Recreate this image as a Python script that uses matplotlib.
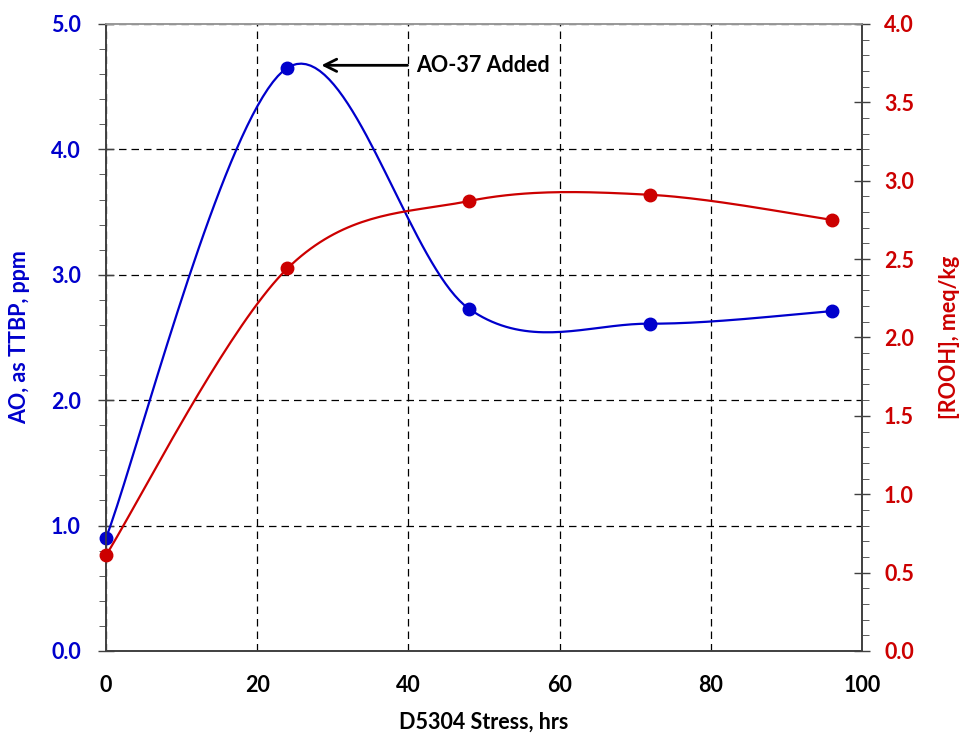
import numpy as np
import matplotlib.pyplot as plt
from matplotlib.ticker import MultipleLocator, FormatStrFormatter

# data
hours = [0, 24, 48, 72, 96]
ao_ppm = [0.90, 4.65, 2.73, 2.61, 2.71]
rooh = [0.61, 2.44, 2.87, 2.91, 2.75]

blue = "#0000CC"
red = "#CC0000"
plt.rcParams["font.family"] = ["Lato", "DejaVu Sans"]
plt.rcParams["font.weight"] = "bold"


def smooth(x, y, sx, sy, n=40):
    # Excel-like smoothed line: cubic Bezier with Catmull-Rom control points,
    # computed in screen-proportional units
    px = np.asarray(x, float) * sx
    py = np.asarray(y, float) * sy
    P = np.column_stack([px, py])
    P = np.vstack([P[0], P, P[-1]])
    out = []
    for i in range(1, len(P) - 2):
        p0, p1, p2, p3 = P[i - 1], P[i], P[i + 1], P[i + 2]
        c1 = p1 + (p2 - p0) / 6
        c2 = p2 - (p3 - p1) / 6
        t = np.linspace(0, 1, n)[:, None]
        seg = (1 - t) ** 3 * p1 + 3 * (1 - t) ** 2 * t * c1 + 3 * (1 - t) * t ** 2 * c2 + t ** 3 * p2
        out.append(seg if i == 1 else seg[1:])
    out = np.vstack(out)
    return out[:, 0] / sx, out[:, 1] / sy


fig = plt.figure(figsize=(9.63, 7.36), dpi=100)
ax = fig.add_axes([0.110, 0.1155, 0.785, 0.852])
ax2 = ax.twinx()

# axes size in pixels -> units for the smoothing
w_px, h_px = 756, 627
bx, by = smooth(hours, ao_ppm, w_px / 100, h_px / 5)
rx, ry = smooth(hours, rooh, w_px / 100, h_px / 4)

ax.plot(bx, by, color=blue, lw=1.6, zorder=3)
ax.plot(hours, ao_ppm, "o", color=blue, ms=9, clip_on=False, zorder=4)
ax2.plot(rx, ry, color=red, lw=1.6, zorder=3)
ax2.plot(hours, rooh, "o", color=red, ms=9, clip_on=False, zorder=4)

ax.set_xlim(0, 100)
ax.set_ylim(0, 5)
ax2.set_ylim(0, 4)
ax.xaxis.set_major_locator(MultipleLocator(20))
ax.yaxis.set_major_locator(MultipleLocator(1))
ax.yaxis.set_minor_locator(MultipleLocator(0.2))
ax.yaxis.set_major_formatter(FormatStrFormatter("%.1f"))
ax2.yaxis.set_major_locator(MultipleLocator(0.5))
ax2.yaxis.set_minor_locator(MultipleLocator(0.1))
ax2.yaxis.set_major_formatter(FormatStrFormatter("%.1f"))

ax.grid(True, which="major", color="black", ls=(0, (6, 4)), lw=0.9)
ax.tick_params(axis="x", length=0, labelsize=15.5, pad=17, colors="black")
ax.tick_params(axis="y", which="major", direction="inout", length=12, width=1,
               labelsize=15.5, labelcolor=blue, color="#404040", pad=12)
ax.tick_params(axis="y", which="minor", direction="out", length=5, color="#404040")
ax2.tick_params(axis="y", which="major", direction="inout", length=12, width=1,
                labelsize=15.5, labelcolor=red, color="#404040", pad=10)
ax2.tick_params(axis="y", which="minor", direction="out", length=5, color="#404040")

for a in (ax, ax2):
    for s in a.spines.values():
        s.set_color("#404040")
        s.set_linewidth(1.2)
    a.spines["top"].set_color("#999999")

ax.set_xlabel("D5304 Stress, hrs", fontsize=15.5, fontweight="bold", va="center")
ax.set_ylabel("AO, as TTBP, ppm", fontsize=15.5, fontweight="bold", color=blue, va="center")
ax2.set_ylabel("[ROOH], meq/kg", fontsize=15.5, fontweight="bold", color=red, va="center")
ax.xaxis.set_label_coords(0.5, -0.113)
ax.yaxis.set_label_coords(-0.114, 0.5)
ax2.yaxis.set_label_coords(1.116, 0.5)

ax.annotate("AO-37 Added", xy=(28.5, 4.67), xytext=(41, 4.67),
            fontsize=15.5, fontweight="bold", va="center", ha="left",
            arrowprops=dict(arrowstyle="->", color="black", lw=2, mutation_scale=22,
                            shrinkA=4, shrinkB=0))

fig.savefig("out.png", dpi=100)
